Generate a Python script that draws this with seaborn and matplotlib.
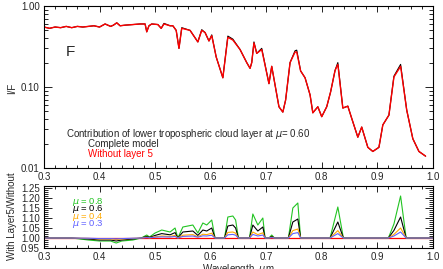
import numpy as np
import pandas as pd
import seaborn as sns
import matplotlib.pyplot as plt
from matplotlib.ticker import MultipleLocator, FormatStrFormatter, LogLocator, NullFormatter

# top panel: I/F spectrum (wavelength in micron)
wl = [0.300, 0.310, 0.320, 0.330, 0.340, 0.350, 0.360, 0.370, 0.380, 0.390,
      0.400, 0.410, 0.420, 0.425, 0.431, 0.437, 0.446, 0.460, 0.473, 0.482,
      0.485, 0.489, 0.494, 0.505, 0.511, 0.516, 0.527, 0.532, 0.538, 0.543,
      0.548, 0.563, 0.577, 0.584, 0.590, 0.597, 0.602, 0.610, 0.622, 0.631,
      0.640, 0.653, 0.665, 0.671, 0.674, 0.678, 0.683, 0.692, 0.705, 0.710,
      0.723, 0.730, 0.735, 0.743, 0.752, 0.755, 0.762, 0.770, 0.779, 0.784,
      0.793, 0.800, 0.809, 0.816, 0.824, 0.829, 0.838, 0.847, 0.854, 0.865,
      0.872, 0.883, 0.892, 0.903, 0.910, 0.921, 0.930, 0.942, 0.953, 0.964,
      0.975, 0.987]
without_l5 = [0.55, 0.53, 0.55, 0.54, 0.56, 0.54, 0.56, 0.55, 0.56, 0.57,
              0.55, 0.60, 0.56, 0.58, 0.62, 0.57, 0.58, 0.59, 0.60, 0.60,
              0.48, 0.57, 0.60, 0.59, 0.53, 0.60, 0.57, 0.57, 0.50, 0.30,
              0.53, 0.50, 0.36, 0.50, 0.47, 0.37, 0.43, 0.235, 0.13, 0.41,
              0.38, 0.29, 0.20, 0.17, 0.20, 0.35, 0.26, 0.29, 0.11, 0.18,
              0.057, 0.049, 0.069, 0.20, 0.27, 0.27, 0.158, 0.13, 0.08, 0.048,
              0.057, 0.043, 0.057, 0.087, 0.16, 0.19, 0.055, 0.058, 0.041, 0.024,
              0.032, 0.018, 0.016, 0.018, 0.034, 0.045, 0.133, 0.18, 0.052, 0.023,
              0.016, 0.014]
complete = [0.55, 0.53, 0.55, 0.54, 0.56, 0.54, 0.56, 0.55, 0.56, 0.57,
            0.55, 0.60, 0.56, 0.58, 0.62, 0.57, 0.58, 0.59, 0.60, 0.60,
            0.48, 0.57, 0.60, 0.59, 0.53, 0.61, 0.57, 0.57, 0.50, 0.30,
            0.54, 0.50, 0.36, 0.51, 0.47, 0.37, 0.44, 0.235, 0.13, 0.425,
            0.39, 0.29, 0.20, 0.17, 0.20, 0.36, 0.26, 0.30, 0.11, 0.18,
            0.057, 0.049, 0.069, 0.20, 0.28, 0.285, 0.158, 0.13, 0.08, 0.048,
            0.057, 0.043, 0.057, 0.087, 0.16, 0.20, 0.055, 0.058, 0.041, 0.024,
            0.032, 0.018, 0.016, 0.018, 0.034, 0.045, 0.136, 0.19, 0.052, 0.023,
            0.016, 0.014]

# bottom panel: ratio with layer 5 / without, for several mu
ratio_wl = [0.300, 0.350, 0.380, 0.400, 0.420, 0.430, 0.440, 0.460, 0.475, 0.485,
            0.490, 0.500, 0.512, 0.527, 0.536, 0.541, 0.550, 0.568, 0.577, 0.586,
            0.593, 0.602, 0.608, 0.625, 0.631, 0.640, 0.645, 0.650, 0.670, 0.676,
            0.685, 0.694, 0.698, 0.705, 0.710, 0.715, 0.740, 0.748, 0.757, 0.762,
            0.815, 0.829, 0.839, 0.920, 0.930, 0.942, 0.952, 1.000]
ratio_mu08 = [1.0, 1.0, 0.99, 0.985, 0.985, 0.975, 0.985, 0.99, 1.0, 1.015,
              1.005, 1.025, 1.04, 1.03, 1.05, 1.0, 1.055, 1.065, 1.025, 1.075,
              1.065, 1.09, 1.0, 1.0, 1.105, 1.11, 1.09, 1.0, 1.0, 1.12,
              1.065, 1.10, 1.0, 1.0, 1.015, 1.0, 1.0, 1.15, 1.175, 1.0,
              1.0, 1.155, 1.0, 1.0, 1.07, 1.21, 1.0, 1.0]
ratio_mu06 = [1.0, 1.0, 0.995, 0.99, 0.99, 0.985, 0.99, 0.995, 1.0, 1.008,
              1.003, 1.013, 1.022, 1.016, 1.027, 1.0, 1.03, 1.035, 1.013, 1.04,
              1.035, 1.05, 1.0, 1.0, 1.06, 1.065, 1.05, 1.0, 1.0, 1.065,
              1.035, 1.055, 1.0, 1.0, 1.008, 1.0, 1.0, 1.08, 1.095, 1.0,
              1.0, 1.08, 1.0, 1.0, 1.038, 1.105, 1.0, 1.0]
ratio_mu04 = [1.0, 1.0, 0.998, 0.995, 0.995, 0.992, 0.995, 0.998, 1.0, 1.004,
              1.001, 1.006, 1.01, 1.008, 1.013, 1.0, 1.014, 1.017, 1.006, 1.019,
              1.017, 1.024, 1.0, 1.0, 1.028, 1.03, 1.024, 1.0, 1.0, 1.03,
              1.017, 1.026, 1.0, 1.0, 1.004, 1.0, 1.0, 1.037, 1.045, 1.0,
              1.0, 1.037, 1.0, 1.0, 1.018, 1.05, 1.0, 1.0]
ratio_mu03 = [1.0, 1.0, 0.999, 0.997, 0.997, 0.996, 0.997, 0.999, 1.0, 1.002,
              1.001, 1.004, 1.006, 1.005, 1.008, 1.0, 1.008, 1.01, 1.004, 1.011,
              1.01, 1.014, 1.0, 1.0, 1.016, 1.018, 1.014, 1.0, 1.0, 1.018,
              1.01, 1.015, 1.0, 1.0, 1.002, 1.0, 1.0, 1.022, 1.027, 1.0,
              1.0, 1.022, 1.0, 1.0, 1.01, 1.03, 1.0, 1.0]
baseline_wl = [0.300, 1.000]
baseline = [1.0, 1.0]

mu_labels = ["0.8", "0.6", "0.4", "0.3"]
mu_colors = ["#22c422", "black", "#ffaa00", "#6060ff"]

sns.set_style("ticks")
plt.rcParams['font.family'] = ['Liberation Sans', 'DejaVu Sans']
plt.rcParams['mathtext.fontset'] = 'dejavusans'

fig = plt.figure(figsize=(4.43, 2.69), dpi=100)
ax1 = fig.add_axes([0.0993, 0.3755, 0.8777, 0.6022])
ax2 = fig.add_axes([0.0993, 0.078, 0.8777, 0.2306])

top = pd.DataFrame({"wl": wl, "complete": complete, "without": without_l5})
sns.lineplot(data=top, x="wl", y="complete", ax=ax1, color="black", lw=0.8,
             sort=False, estimator=None)
sns.lineplot(data=top, x="wl", y="without", ax=ax1, color="#ff0000", lw=1.0,
             sort=False, estimator=None)
ax1.set_yscale("log")
ax1.set_xlim(0.3, 1.0)
ax1.set_ylim(0.01, 1.0)

ratios = pd.DataFrame({"wl": ratio_wl, "0.8": ratio_mu08, "0.6": ratio_mu06,
                       "0.4": ratio_mu04, "0.3": ratio_mu03})
sns.lineplot(x=baseline_wl, y=baseline, ax=ax2, color="#ff0000", lw=0.9)
for lab, col in zip(mu_labels, mu_colors):
    sns.lineplot(data=ratios, x="wl", y=lab, ax=ax2, color=col, lw=0.8,
                 sort=False, estimator=None)
ax2.set_xlim(0.3, 1.0)
ax2.set_ylim(0.95, 1.26)

for ax in (ax1, ax2):
    ax.set_xlabel("")
    ax.set_ylabel("")
    for s in ax.spines.values():
        s.set_linewidth(0.8)
        s.set_color("black")
    ax.xaxis.set_major_locator(MultipleLocator(0.1))
    ax.xaxis.set_minor_locator(MultipleLocator(0.02))
    ax.xaxis.set_major_formatter(FormatStrFormatter("%.1f"))
    ax.tick_params(which="both", direction="in", top=True, right=True,
                   labelsize=7, pad=3, width=0.6, color="black")
    ax.tick_params(axis="x", which="major", length=4)
    ax.tick_params(axis="x", which="minor", length=2)
    ax.tick_params(axis="y", which="major", length=6)
    ax.tick_params(axis="y", which="minor", length=3)

ax1.yaxis.set_major_locator(LogLocator(base=10))
ax1.yaxis.set_minor_locator(LogLocator(base=10, subs=np.arange(2, 10)))
ax1.yaxis.set_minor_formatter(NullFormatter())
ax1.yaxis.set_major_formatter(FormatStrFormatter("%.2f"))
ax2.yaxis.set_major_locator(MultipleLocator(0.05))
ax2.yaxis.set_minor_locator(MultipleLocator(0.01))
ax2.yaxis.set_major_formatter(FormatStrFormatter("%.2f"))

ax1.text(0.055, 0.716, "F", transform=ax1.transAxes, fontsize=11, va="center")
ax1.text(0.057, 0.21, r"Contribution of lower tropospheric cloud layer at $\mu$= 0.60",
         transform=ax1.transAxes, fontsize=7, va="center")
ax1.text(0.113, 0.148, "Complete model", transform=ax1.transAxes, fontsize=7, va="center")
ax1.text(0.113, 0.086, "Without layer 5", transform=ax1.transAxes, fontsize=7,
         va="center", color="#ff0000")

for lab, col, yy in zip(mu_labels, mu_colors, [0.742, 0.625, 0.505, 0.385]):
    ax2.text(0.072, yy, r"$\mu$ = " + lab, transform=ax2.transAxes, fontsize=6.8,
             va="center", color=col)

fig.text(0.027, 0.673, "I/F", rotation=90, fontsize=7, ha="center", va="center")
fig.text(0.027, 0.197, "With Layer5/Without", rotation=90, fontsize=7,
         ha="center", va="center")
fig.text(0.537, 0.026, r"Wavelength, $\mu$m", fontsize=7, ha="center", va="top")

fig.savefig("out.png", dpi=100)
